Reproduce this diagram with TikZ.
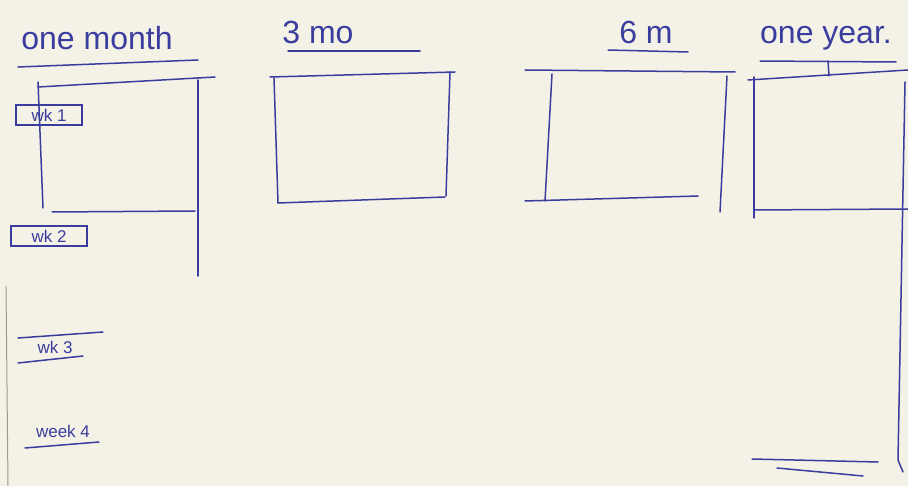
\documentclass[tikz,border=0pt]{standalone}
\usepackage{fontspec}
\setmainfont{Liberation Sans}
\usetikzlibrary{positioning}
\definecolor{paper}{HTML}{F4F2E6}
\definecolor{inkblue}{HTML}{3B3D9E}
\definecolor{edge}{HTML}{A09A88}

\begin{document}
\begin{tikzpicture}[x=1pt,y=-1pt,
  pen/.style={draw=inkblue,line width=1.5pt,line cap=round},
  head/.style={font=\fontsize{32}{32}\selectfont,text=inkblue,inner sep=0pt},
  wk/.style={font=\fontsize{17}{17}\selectfont,text=inkblue,inner sep=1pt},
  wkbox/.style={wk,draw=inkblue,line width=1.3pt,minimum height=20pt},
]
\fill[paper] (0,0) rectangle (908,486);
\useasboundingbox (0,0) rectangle (908,486);
% column headings
\node[head] (month) at (97,38) {one month};
\node[head] (three) at (318,32) {3 mo};
\node[head] (six)   at (646,32) {6 m};
\node[head] (year)  at (826,38) {one year.};
\draw[pen] (18,67) -- (198,60);
\draw[pen] (288,51) -- (420,51);
\draw[pen] (608,50) -- (688,52);
\draw[pen] (760,61) -- (896,62);
\draw[pen] (828,61) -- (829,76);
% one month
\draw[pen] (38,87) -- (215,77);
\draw[pen] (38,82) -- (43,208);
\draw[pen] (52,212) -- (195,211);
\draw[pen] (198,80) -- (198,276);
\node[wkbox,minimum width=66pt] (wka) at (49,115) {wk 1};
\node[wkbox,minimum width=76pt] (wkb) at (49,236) {wk 2};
\node[wk] (wkc) at (55,347) {wk 3};
\draw[pen] (18,338) -- (103,332);
\draw[pen] (18,363) -- (83,356);
\node[wk] (wkd) at (63,431) {week 4};
\draw[pen] (25,448) -- (99,442);
% 3 mo
\draw[pen] (270,77) -- (455,72);
\draw[pen] (274,78) -- (278,203);
\draw[pen] (278,203) -- (445,197);
\draw[pen] (450,72) -- (446,196);
% 6 m
\draw[pen] (525,70) -- (735,72);
\draw[pen] (552,74) -- (545,201);
\draw[pen] (525,201) -- (698,196);
\draw[pen] (727,76) -- (720,212);
% one year
\draw[pen] (748,80) -- (908,70);
\draw[pen] (754,77) -- (754,218);
\draw[pen] (754,210) -- (908,209);
\draw[pen] (905,82) -- (898,460) -- (903,472);
\draw[pen] (752,459) -- (878,462);
\draw[pen] (777,468) -- (863,476);
% paper edge
\draw[edge,line width=1pt] (6,286) -- (8,486);
\end{tikzpicture}
\end{document}
